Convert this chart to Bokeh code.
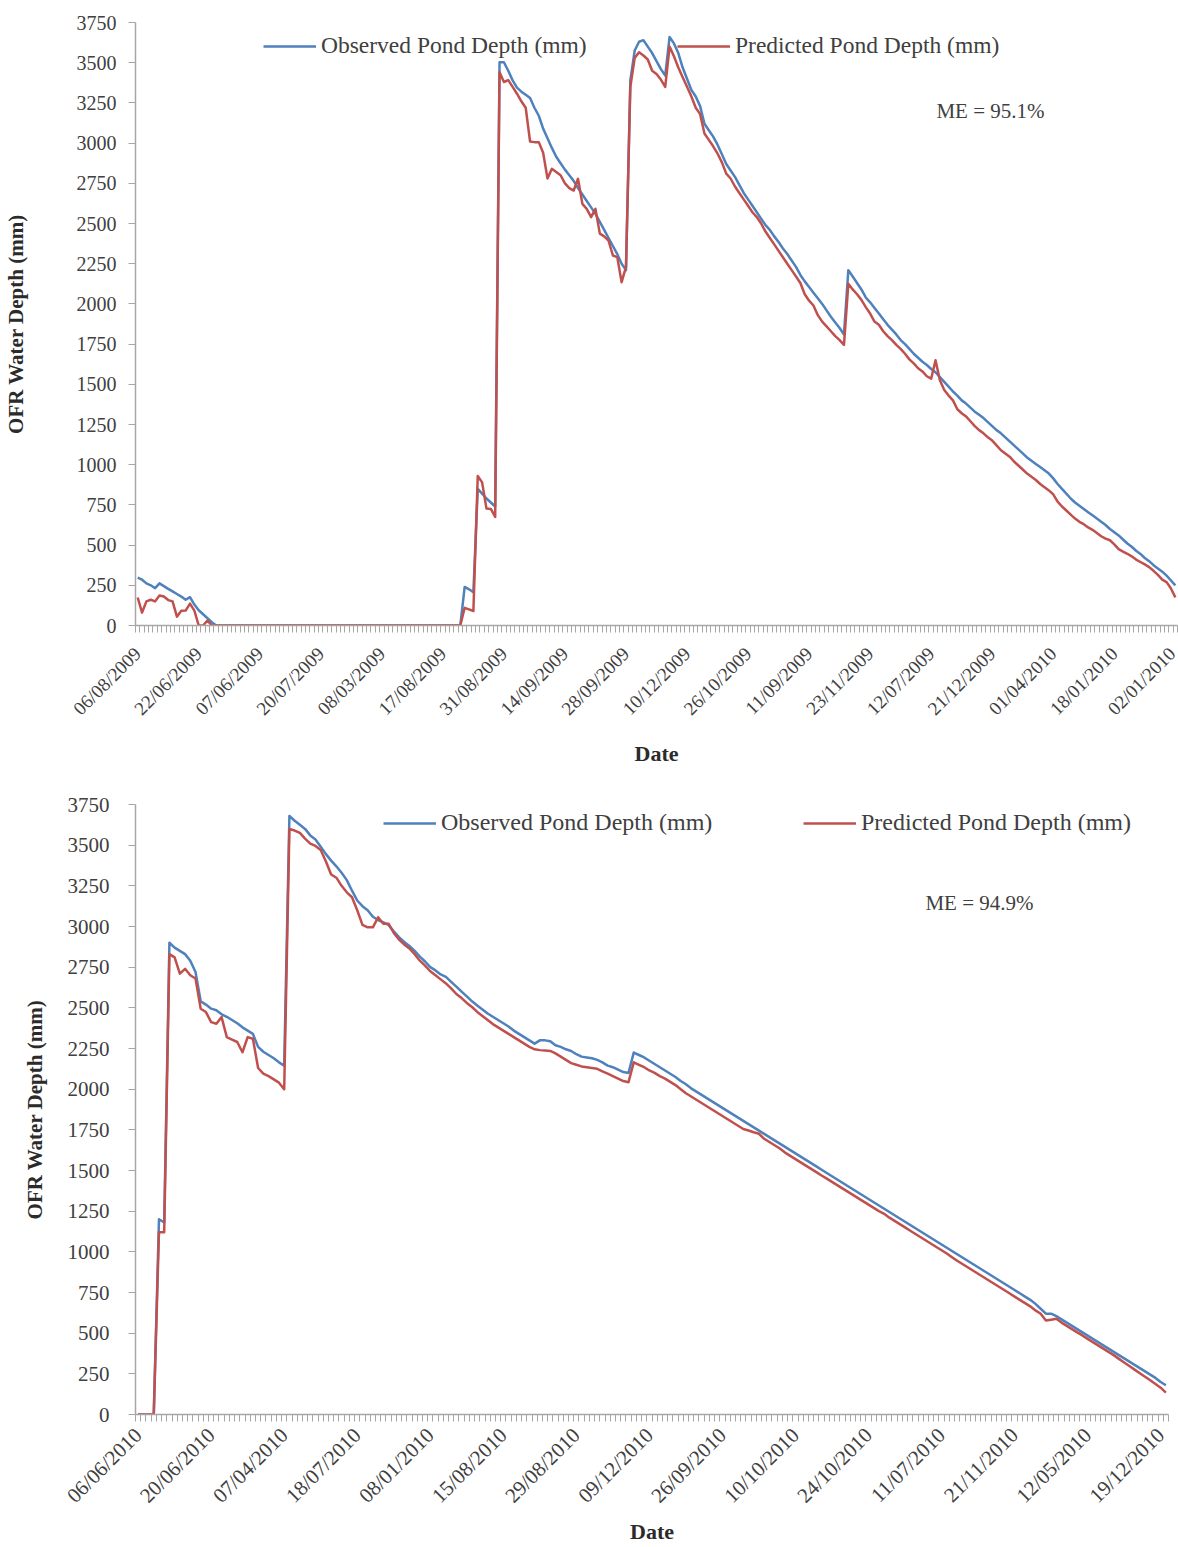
import math
from bokeh.plotting import figure
from bokeh.models import Range1d, FixedTicker, Legend, LegendItem, Label
from bokeh.layouts import column
from bokeh.embed import file_html
from bokeh.resources import INLINE

# ---------------- data: 2009/10 season (daily categories from 08 Jun 2009) ----------------
obs_2009 = ([298, 285, 262, 250, 232, 262, 245, 228, 212, 196, 180, 160, 176, 130, 95, 70, 45, 20, 0]
            + [0] * 56
            + [240, 225, 207, 850, 820, 790, 765, 740]
            + [3503, 3503, 3450, 3390, 3345, 3320, 3300, 3280, 3220, 3170, 3090, 3030, 2970, 2915, 2875,
               2835, 2800, 2765, 2720, 2680, 2640, 2600, 2560, 2510, 2460, 2410, 2360, 2310, 2250, 2210]
            + [3390, 3576, 3630, 3640, 3600, 3560, 3510, 3460, 3420, 3660, 3620, 3560, 3470, 3400, 3330,
               3290, 3230, 3120, 3080, 3040, 2990, 2930, 2870, 2830, 2790, 2740, 2690, 2650, 2610, 2570,
               2530, 2490, 2460, 2420, 2385, 2345, 2310, 2270, 2230, 2180, 2140, 2105, 2070, 2035, 2000,
               1960, 1920, 1885, 1850, 1810]
            + [2210, 2170, 2130, 2090, 2040, 2010, 1975, 1940, 1905, 1870, 1840, 1810, 1775, 1750, 1720,
               1690, 1665, 1640, 1620, 1595, 1575, 1545, 1515, 1485, 1455, 1430, 1400, 1380, 1355, 1330,
               1310, 1290, 1265, 1240, 1215, 1195, 1170, 1145, 1120, 1095, 1070, 1045, 1025, 1005, 985,
               965, 945, 915, 880, 850, 820, 790, 765, 745, 725, 705, 685, 665, 645, 625,
               600, 580, 560, 535, 510, 490, 465, 445, 420, 400, 375, 355, 335, 310, 280, 250])

pred_2009 = ([174, 80, 150, 160, 150, 187, 180, 158, 150, 55, 92, 93, 136, 93, 0, 0, 31, 0]
             + [0] * 57
             + [110, 100, 90, 930, 890, 727, 725, 675]
             + [3441, 3380, 3392, 3350, 3307, 3260, 3220, 3010, 3006, 3006, 2940, 2780, 2840, 2820, 2800,
                2750, 2720, 2705, 2778, 2622, 2591, 2540, 2591, 2437, 2420, 2394, 2301, 2291, 2135, 2230]
             + [3350, 3530, 3565, 3545, 3520, 3450, 3430, 3395, 3350, 3600, 3540, 3470, 3410, 3350, 3290,
                3220, 3180, 3060, 3020, 2980, 2935, 2880, 2810, 2780, 2730, 2690, 2650, 2610, 2570, 2540,
                2500, 2450, 2410, 2370, 2330, 2290, 2250, 2210, 2170, 2130, 2060, 2020, 1990, 1930, 1890,
                1860, 1830, 1800, 1775, 1745]
             + [2125, 2090, 2060, 2025, 1980, 1940, 1890, 1870, 1830, 1800, 1775, 1745, 1720, 1690, 1655,
                1630, 1600, 1580, 1550, 1535, 1650, 1525, 1465, 1430, 1400, 1345, 1320, 1300, 1270, 1240,
                1215, 1195, 1170, 1150, 1120, 1090, 1070, 1050, 1020, 995, 970, 945, 925, 905, 880,
                860, 840, 815, 770, 740, 715, 690, 665, 645, 630, 610, 595, 575, 555, 540,
                530, 505, 475, 460, 446, 430, 410, 395, 380, 363, 340, 315, 285, 270, 230, 175])

labels_2009 = ["06/08/2009", "22/06/2009", "07/06/2009", "20/07/2009", "08/03/2009", "17/08/2009",
               "31/08/2009", "14/09/2009", "28/09/2009", "10/12/2009", "26/10/2009", "11/09/2009",
               "23/11/2009", "12/07/2009", "21/12/2009", "01/04/2010", "18/01/2010", "02/01/2010"]

# ---------------- data: 2010 season (daily categories from 06 Jun 2010) ----------------
obs_2010 = ([0, 0, 0, 0]
            + [1200, 1180, 2900, 2870, 2850, 2830, 2790, 2720, 2540, 2520, 2495, 2485, 2460, 2445, 2425,
               2405, 2380, 2360, 2340, 2260, 2230, 2210, 2190, 2165, 2145]
            + [3680, 3650, 3625, 3600, 3560, 3535, 3490, 3445, 3405, 3370, 3330, 3285, 3220, 3160, 3125,
               3100, 3060, 3040, 3025, 3010, 2970, 2935, 2905, 2880, 2850, 2815, 2785, 2750, 2730, 2705,
               2690, 2660, 2630, 2600, 2570, 2540, 2515, 2490, 2465, 2445, 2425, 2405, 2385, 2360, 2340,
               2320, 2300, 2280, 2300, 2300, 2295, 2270, 2260, 2245, 2235, 2215, 2200, 2195, 2190, 2180,
               2165, 2145, 2135, 2120, 2105, 2100]
            + [2225, 2210, 2195, 2175, 2155, 2135, 2115, 2095, 2075, 2050, 2030, 2005, 1985, 1965, 1945,
               1925, 1905, 1885, 1865, 1845, 1825, 1805, 1785, 1765, 1745, 1725, 1705, 1685, 1665, 1645,
               1625, 1605, 1585, 1565, 1545, 1525, 1505, 1485, 1465, 1445, 1425, 1405, 1385, 1365, 1345,
               1325, 1305, 1285, 1265, 1245, 1225, 1205, 1185, 1165, 1145, 1125, 1105, 1085, 1065, 1045,
               1025, 1005, 985, 965, 945, 925, 905, 885, 865, 845, 825, 805, 785, 765, 745,
               725, 705, 680, 650, 620, 620, 605, 585, 565, 545, 525, 505, 485, 465, 445,
               425, 405, 385, 365, 345, 325, 305, 285, 265, 245, 225, 200, 180])

pred_2010 = ([0, 0, 0, 0]
             + [1120, 1120, 2830, 2810, 2710, 2740, 2700, 2680, 2494, 2474, 2412, 2402, 2443, 2320, 2305,
                2290, 2227, 2320, 2310, 2130, 2095, 2080, 2060, 2040, 2000]
             + [3600, 3590, 3575, 3540, 3510, 3495, 3470, 3400, 3320, 3300, 3250, 3210, 3180, 3100, 3010,
                2995, 2995, 3057, 3017, 3017, 2960, 2920, 2890, 2865, 2830, 2790, 2760, 2725, 2700, 2675,
                2650, 2620, 2585, 2560, 2530, 2505, 2475, 2450, 2425, 2400, 2380, 2360, 2340, 2320, 2300,
                2280, 2260, 2245, 2240, 2238, 2235, 2220, 2200, 2180, 2160, 2150, 2140, 2135, 2130, 2125,
                2110, 2095, 2080, 2065, 2050, 2043]
             + [2165, 2150, 2135, 2115, 2100, 2080, 2065, 2045, 2025, 2000, 1975, 1955, 1935, 1915, 1895,
                1875, 1855, 1835, 1815, 1795, 1775, 1755, 1746, 1735, 1726, 1695, 1675, 1655, 1635, 1610,
                1590, 1570, 1550, 1530, 1510, 1490, 1469, 1450, 1430, 1410, 1390, 1370, 1350, 1330, 1310,
                1290, 1270, 1250, 1234, 1210, 1190, 1170, 1150, 1130, 1110, 1090, 1070, 1050, 1030, 1010,
                990, 967, 945, 925, 905, 885, 865, 845, 825, 805, 785, 765, 745, 725, 705,
                685, 665, 640, 619, 578, 583, 588, 565, 545, 525, 505, 486, 465, 445, 425,
                405, 385, 365, 342, 320, 298, 276, 254, 232, 210, 188, 165, 135])

labels_2010 = ["06/06/2010", "20/06/2010", "07/04/2010", "18/07/2010", "08/01/2010", "15/08/2010",
               "29/08/2010", "09/12/2010", "26/09/2010", "10/10/2010", "24/10/2010", "11/07/2010",
               "21/11/2010", "12/05/2010", "19/12/2010"]

y_ticks = [0, 250, 500, 750, 1000, 1250, 1500, 1750, 2000, 2250, 2500, 2750, 3000, 3250, 3500, 3750]
label_every = 14

series_names = ["Observed Pond Depth (mm)", "Predicted Pond Depth (mm)"]
me_2009 = "ME = 95.1%"
me_2010 = "ME = 94.9%"

assert len(obs_2009) == len(pred_2009) == 239
assert len(obs_2010) == len(pred_2010) == 198

# ---------------- styling ----------------
SERIF = "Liberation Serif"
BLUE = "#4F81BD"
RED = "#C0504D"
AXIS_GRAY = "#A6A6A6"
TEXT = "#404040"
TITLE = "#2b2b2b"


def make_chart(obs, pred, labels, me_text, me_pos, cfg):
    n = len(obs)
    x = list(range(1, n + 1))
    p = figure(frame_width=cfg["frame_w"], frame_height=cfg["frame_h"],
               output_backend="svg", toolbar_location=None,
               x_range=Range1d(0.5, n + 0.5), y_range=Range1d(0, 3750),
               min_border_left=cfg["left"], min_border_right=cfg["right"],
               min_border_top=cfg["top"], min_border_bottom=cfg["bottom"])
    p.outline_line_color = None
    p.xgrid.visible = False
    p.ygrid.visible = False
    p.background_fill_color = "white"
    p.border_fill_color = "white"

    r_obs = p.line(x, obs, line_color=BLUE, line_width=2.5, line_join="round")
    r_pred = p.line(x, pred, line_color=RED, line_width=2.5, line_join="round")

    # x axis: category axis, tick mark at every category boundary, label every 14th category
    label_pos = [1 + label_every * k for k in range(len(labels))]
    xa = p.xaxis[0]
    xa.ticker = FixedTicker(ticks=label_pos, minor_ticks=[0.5 + k for k in range(n + 1)])
    xa.major_label_overrides = {pos: lab for pos, lab in zip(label_pos, labels)}
    xa.major_label_orientation = math.pi / 4
    xa.major_tick_line_color = None
    xa.major_tick_out = 7
    xa.major_tick_in = 0
    xa.minor_tick_line_color = AXIS_GRAY
    xa.minor_tick_out = 7
    xa.minor_tick_in = 0
    xa.axis_line_color = AXIS_GRAY
    xa.axis_line_width = 1.5
    xa.major_label_text_font = SERIF
    xa.major_label_text_font_size = cfg["xtick_size"]
    xa.major_label_text_color = TEXT
    xa.major_label_standoff = cfg["xtick_standoff"]
    xa.axis_label = "Date"
    xa.axis_label_text_font = SERIF
    xa.axis_label_text_font_style = "bold"
    xa.axis_label_text_font_size = "22px"
    xa.axis_label_text_color = TITLE
    xa.axis_label_standoff = cfg["xlab_standoff"]

    ya = p.yaxis[0]
    ya.ticker = FixedTicker(ticks=y_ticks)
    ya.major_tick_out = 7
    ya.major_tick_in = 0
    ya.major_tick_line_color = AXIS_GRAY
    ya.minor_tick_line_color = None
    ya.axis_line_color = AXIS_GRAY
    ya.axis_line_width = 1.5
    ya.major_label_text_font = SERIF
    ya.major_label_text_font_size = cfg["ytick_size"]
    ya.major_label_text_color = TEXT
    ya.major_label_standoff = cfg["ytick_standoff"]
    ya.axis_label = "OFR Water Depth (mm)"
    ya.axis_label_text_font = SERIF
    ya.axis_label_text_font_style = "bold"
    ya.axis_label_text_font_size = "21px"
    ya.axis_label_text_color = TITLE
    ya.axis_label_standoff = cfg["ylab_standoff"]

    for name, rend, lx in zip(series_names, [r_obs, r_pred], cfg["legend_x"]):
        leg = Legend(items=[LegendItem(label=name, renderers=[rend])],
                     location=(lx, cfg["legend_y"]), orientation="horizontal",
                     glyph_width=53, glyph_height=20, label_standoff=5,
                     padding=0, margin=0, spacing=0,
                     label_text_font=SERIF, label_text_font_size=cfg["legend_size"],
                     label_text_color=TEXT, background_fill_alpha=0,
                     border_line_color=None)
        p.add_layout(leg)

    p.add_layout(Label(x=me_pos[0], y=me_pos[1], text=me_text, text_font=SERIF,
                       text_font_size="21px", text_color=TEXT, text_baseline="middle",
                       text_align="left"))
    return p


cfg1 = dict(frame_w=1042, frame_h=603, left=134, right=2, top=22, bottom=147,
            xtick_size="19px", xtick_standoff=18, xlab_standoff=11,
            ytick_size="20px", ytick_standoff=12, ylab_standoff=46,
            legend_x=[128, 542], legend_y=566, legend_size="23.5px")
cfg2 = dict(frame_w=1033, frame_h=610, left=135, right=10, top=32, bottom=133,
            xtick_size="21px", xtick_standoff=10, xlab_standoff=0,
            ytick_size="21px", ytick_standoff=19, ylab_standoff=18,
            legend_x=[248, 668], legend_y=578, legend_size="24px")

p1 = make_chart(obs_2009, pred_2009, labels_2009, me_2009, (184.2, 3197), cfg1)
p2 = make_chart(obs_2010, pred_2010, labels_2010, me_2010, (151.9, 3142), cfg2)

layout = column(p1, p2, spacing=0)
open("out.html", "w").write(file_html(layout, INLINE))
